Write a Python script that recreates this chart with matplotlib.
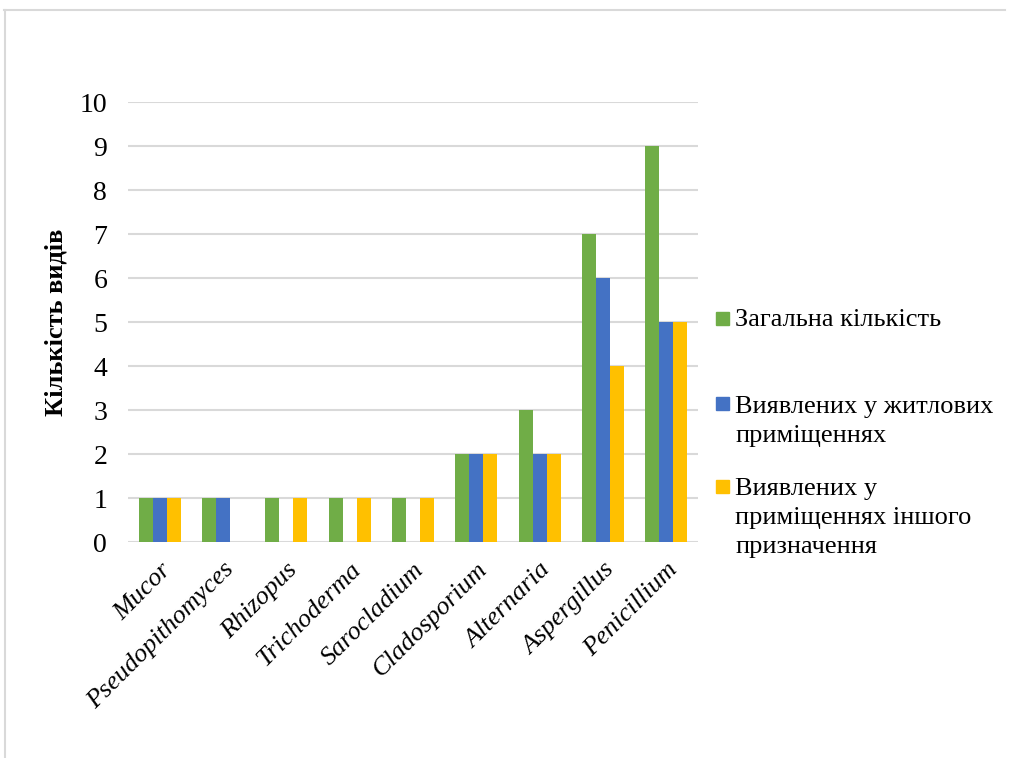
import numpy as np
import matplotlib.pyplot as plt
from matplotlib.patches import Rectangle
from matplotlib.lines import Line2D

# Genera of mould fungi and number of species found
genera = ['Mucor', 'Pseudopithomyces', 'Rhizopus', 'Trichoderma', 'Sarocladium',
          'Cladosporium', 'Alternaria', 'Aspergillus', 'Penicillium']
total = [1, 1, 1, 1, 1, 2, 3, 7, 9]
residential = [1, 1, 0, 0, 0, 2, 2, 6, 5]
other_use = [1, 0, 1, 1, 1, 2, 2, 4, 5]

series_names = ['Загальна кількість',
                'Виявлених у житлових\nприміщеннях',
                'Виявлених у\nприміщеннях іншого\nпризначення']
colors = ['#70ad47', '#4472c4', '#ffc000']

plt.rcParams['font.family'] = ['Liberation Serif', 'DejaVu Serif']

W, H = 1009, 758
fig = plt.figure(figsize=(W / 100, H / 100), dpi=100)
ax = fig.add_axes([128 / W, 1 - 542 / H, 570 / W, 440 / H])

x = np.arange(len(genera))
width = 0.22
for i, (vals, c) in enumerate(zip([total, residential, other_use], colors)):
    ax.bar(x + (i - 1) * width, vals, width, color=c, zorder=3)

ax.set_xlim(-0.5, len(genera) - 0.5)
ax.set_ylim(0, 10)
ax.set_yticks(range(0, 11))
ax.grid(axis='y', color='#d9d9d9', linewidth=1.5, zorder=0)
for s in ax.spines.values():
    s.set_visible(False)
ax.tick_params(axis='both', length=0)
ax.tick_params(axis='y', pad=15, labelsize=20)

ax.set_xticks(x)
ax.set_xticklabels(genera, rotation=45, ha='right', rotation_mode='anchor',
                   style='italic', fontsize=19)
ax.tick_params(axis='x', pad=12)

ax.set_ylabel('Кількість видів', fontsize=19, fontweight='bold', labelpad=9)

# Legend drawn by hand so the markers sit by the first line of each entry
legend_rows = [(312, 326), (397, 413), (480, 495)]  # square top, first baseline (px)
line_pitch = 29
for (sq_top, base), name, c in zip(legend_rows, series_names, colors):
    fig.add_artist(Rectangle((716 / W, 1 - (sq_top + 13) / H), 13 / W, 13 / H,
                             transform=fig.transFigure, color=c))
    for k, line in enumerate(name.split('\n')):
        fig.text(735 / W, 1 - (base + k * line_pitch) / H, line, fontsize=19,
                 va='baseline', ha='left')

# Frame around the chart area
fig.add_artist(Line2D([4 / W, 1005 / W], [1 - 9.5 / H, 1 - 9.5 / H],
                      transform=fig.transFigure, color='#d9d9d9', linewidth=1.5))
fig.add_artist(Line2D([4.5 / W, 4.5 / W], [0, 1 - 9.5 / H],
                      transform=fig.transFigure, color='#d9d9d9', linewidth=1.5))

fig.savefig('out.png', dpi=100)
